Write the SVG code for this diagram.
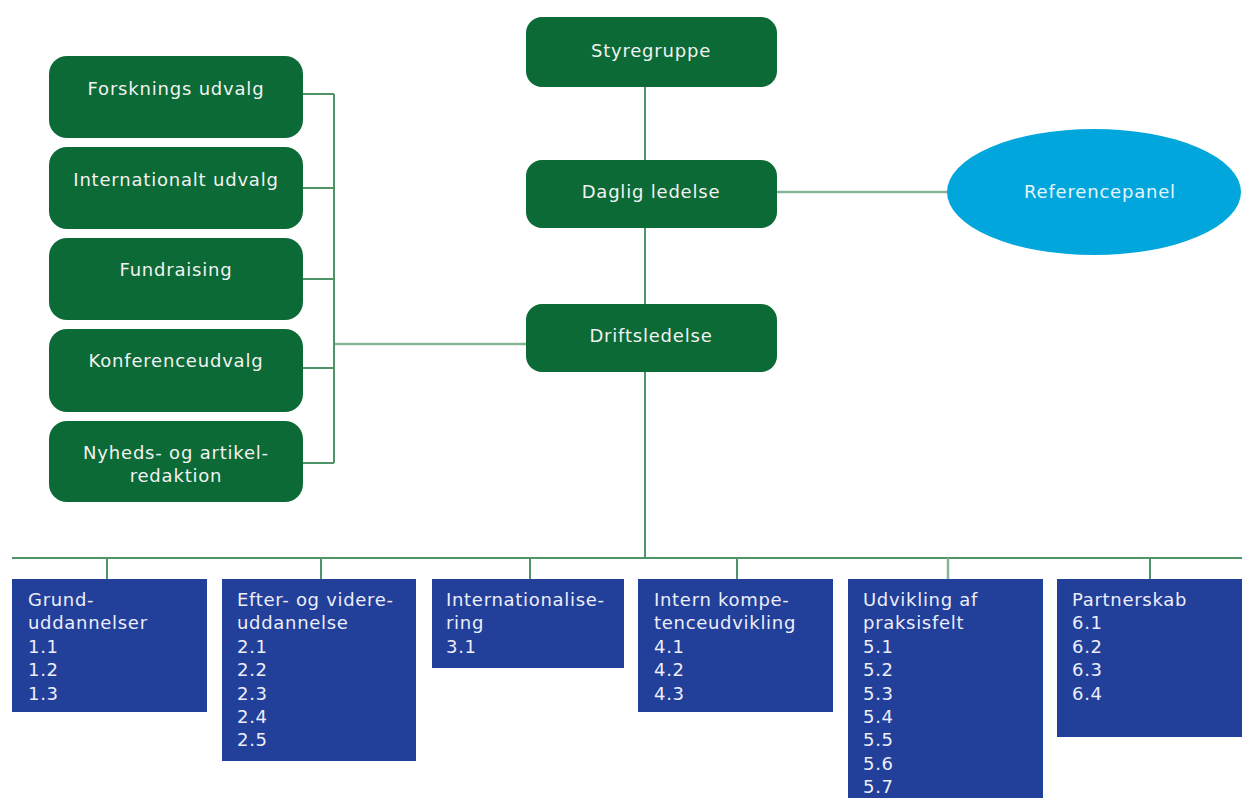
<svg xmlns="http://www.w3.org/2000/svg" width="1242" height="798" viewBox="0 0 1242 798">
<style>
.g{fill:#0b6a35}
.b{fill:#223f99}
.t{font-family:"DejaVu Sans","Liberation Sans",sans-serif;font-size:18px;fill:#f2f2f2;letter-spacing:0.8px}
.c{text-anchor:middle}
.bt{font-family:"DejaVu Sans","Liberation Sans",sans-serif;font-size:18px;fill:#eceefa;letter-spacing:0.7px}
.ln{stroke:#4f9466;stroke-width:2;fill:none}
.ll{stroke:#86b596;stroke-width:2.5;fill:none}
</style>
<rect width="1242" height="798" fill="#ffffff"/>
<g id="connectors">
<line class="ln" x1="645" y1="87" x2="645" y2="160"/>
<line class="ln" x1="645" y1="228" x2="645" y2="304"/>
<line class="ln" x1="645" y1="372" x2="645" y2="558"/>
<line class="ll" x1="777" y1="192" x2="948" y2="192"/>
<line class="ll" x1="334" y1="344" x2="526" y2="344"/>
<line class="ln" x1="334" y1="94" x2="334" y2="463"/>
<line class="ln" x1="302" y1="94" x2="334" y2="94"/>
<line class="ln" x1="302" y1="188" x2="334" y2="188"/>
<line class="ln" x1="302" y1="279" x2="334" y2="279"/>
<line class="ln" x1="302" y1="368" x2="334" y2="368"/>
<line class="ln" x1="302" y1="463" x2="334" y2="463"/>
<line class="ln" x1="12" y1="558" x2="1242" y2="558"/>
<line class="ln" x1="107" y1="558" x2="107" y2="579"/>
<line class="ln" x1="321" y1="558" x2="321" y2="579"/>
<line class="ln" x1="530" y1="558" x2="530" y2="579"/>
<line class="ln" x1="737" y1="558" x2="737" y2="579"/>
<line class="ll" x1="948" y1="558" x2="948" y2="579"/>
<line class="ln" x1="1150" y1="558" x2="1150" y2="579"/>
</g>
<g id="styregruppe"><rect class="g" x="526" y="17" width="251" height="70" rx="16"/><text class="t c" x="651" y="57">Styregruppe</text></g>
<g id="daglig"><rect class="g" x="526" y="160" width="251" height="68" rx="16"/><text class="t c" x="651" y="198">Daglig ledelse</text></g>
<g id="drift"><rect class="g" x="526" y="304" width="251" height="68" rx="16"/><text class="t c" x="651" y="342">Driftsledelse</text></g>
<g id="referencepanel"><ellipse cx="1094" cy="192" rx="147" ry="63" fill="#00a6dc"/><text class="t c" x="1100" y="198" style="fill:#e4f6fd">Referencepanel</text></g>
<g id="forskning"><rect class="g" x="49" y="56" width="254" height="82" rx="18"/><text class="t c" x="176" y="95">Forsknings udvalg</text></g>
<g id="internationalt"><rect class="g" x="49" y="147" width="254" height="82" rx="18"/><text class="t c" x="176" y="186">Internationalt udvalg</text></g>
<g id="fundraising"><rect class="g" x="49" y="238" width="254" height="82" rx="18"/><text class="t c" x="176" y="276">Fundraising</text></g>
<g id="konference"><rect class="g" x="49" y="329" width="254" height="83" rx="18"/><text class="t c" x="176" y="367">Konferenceudvalg</text></g>
<g id="nyheds"><rect class="g" x="49" y="421" width="254" height="81" rx="18"/><text class="t c" x="176" y="459">Nyheds- og artikel-</text><text class="t c" x="176" y="482">redaktion</text></g>
<g id="box1"><rect class="b" x="12" y="579" width="195" height="133"/>
<text class="bt" x="28" y="606"><tspan x="28">Grund-</tspan><tspan x="28" dy="23.4">uddannelser</tspan><tspan x="28" dy="23.4">1.1</tspan><tspan x="28" dy="23.4">1.2</tspan><tspan x="28" dy="23.4">1.3</tspan></text></g>
<g id="box2"><rect class="b" x="222" y="579" width="194" height="182"/>
<text class="bt" x="237" y="606"><tspan x="237">Efter- og videre-</tspan><tspan x="237" dy="23.4">uddannelse</tspan><tspan x="237" dy="23.4">2.1</tspan><tspan x="237" dy="23.4">2.2</tspan><tspan x="237" dy="23.4">2.3</tspan><tspan x="237" dy="23.4">2.4</tspan><tspan x="237" dy="23.4">2.5</tspan></text></g>
<g id="box3"><rect class="b" x="432" y="579" width="192" height="89"/>
<text class="bt" x="446" y="606"><tspan x="446">Internationalise-</tspan><tspan x="446" dy="23.4">ring</tspan><tspan x="446" dy="23.4">3.1</tspan></text></g>
<g id="box4"><rect class="b" x="638" y="579" width="195" height="133"/>
<text class="bt" x="654" y="606"><tspan x="654">Intern kompe-</tspan><tspan x="654" dy="23.4">tenceudvikling</tspan><tspan x="654" dy="23.4">4.1</tspan><tspan x="654" dy="23.4">4.2</tspan><tspan x="654" dy="23.4">4.3</tspan></text></g>
<g id="box5"><rect class="b" x="848" y="579" width="195" height="219"/>
<text class="bt" x="863" y="606"><tspan x="863">Udvikling af</tspan><tspan x="863" dy="23.4">praksisfelt</tspan><tspan x="863" dy="23.4">5.1</tspan><tspan x="863" dy="23.4">5.2</tspan><tspan x="863" dy="23.4">5.3</tspan><tspan x="863" dy="23.4">5.4</tspan><tspan x="863" dy="23.4">5.5</tspan><tspan x="863" dy="23.4">5.6</tspan><tspan x="863" dy="23.4">5.7</tspan></text></g>
<g id="box6"><rect class="b" x="1057" y="579" width="185" height="158"/>
<text class="bt" x="1072" y="606"><tspan x="1072">Partnerskab</tspan><tspan x="1072" dy="23.4">6.1</tspan><tspan x="1072" dy="23.4">6.2</tspan><tspan x="1072" dy="23.4">6.3</tspan><tspan x="1072" dy="23.4">6.4</tspan></text></g>
</svg>
